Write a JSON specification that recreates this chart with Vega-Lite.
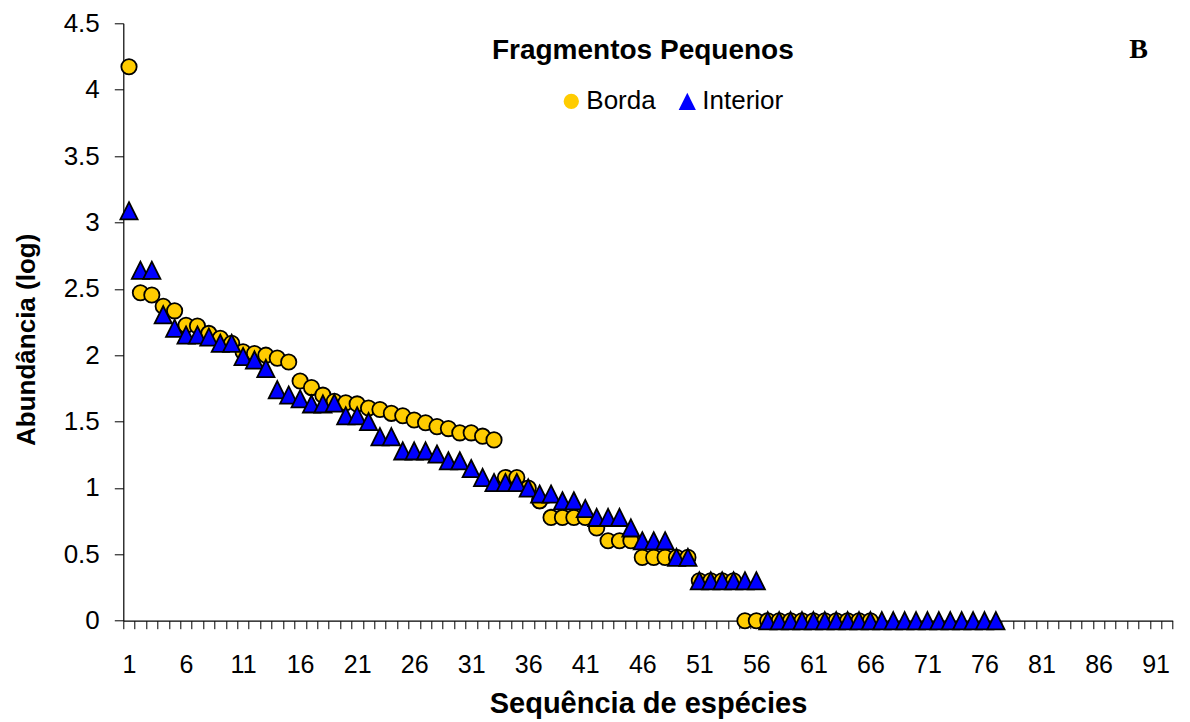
{
  "$schema": "https://vega.github.io/schema/vega-lite/v6.json",
  "width": 1049.4,
  "height": 597.4,
  "autosize": "none",
  "padding": {"left": 123.3, "top": 23.3, "right": 17.3, "bottom": 101.3},
  "background": "white",
  "config": {"view": {"stroke": null}},
  "layer": [
    {
      "data": {"values": [
        {"s":"Borda","r":1,"v":4.173},{"s":"Borda","r":2,"v":2.47},{"s":"Borda","r":3,"v":2.453},{"s":"Borda","r":4,"v":2.369},{"s":"Borda","r":5,"v":2.334},
        {"s":"Borda","r":6,"v":2.225},{"s":"Borda","r":7,"v":2.22},{"s":"Borda","r":8,"v":2.164},{"s":"Borda","r":9,"v":2.127},{"s":"Borda","r":10,"v":2.09},
        {"s":"Borda","r":11,"v":2.025},{"s":"Borda","r":12,"v":2.013},{"s":"Borda","r":13,"v":2.0},{"s":"Borda","r":14,"v":1.978},{"s":"Borda","r":15,"v":1.949},
        {"s":"Borda","r":16,"v":1.806},{"s":"Borda","r":17,"v":1.756},{"s":"Borda","r":18,"v":1.699},{"s":"Borda","r":19,"v":1.653},{"s":"Borda","r":20,"v":1.642},
        {"s":"Borda","r":21,"v":1.633},{"s":"Borda","r":22,"v":1.602},{"s":"Borda","r":23,"v":1.591},{"s":"Borda","r":24,"v":1.562},{"s":"Borda","r":25,"v":1.544},
        {"s":"Borda","r":26,"v":1.512},{"s":"Borda","r":27,"v":1.491},{"s":"Borda","r":28,"v":1.462},{"s":"Borda","r":29,"v":1.447},{"s":"Borda","r":30,"v":1.415},
        {"s":"Borda","r":31,"v":1.415},{"s":"Borda","r":32,"v":1.39},{"s":"Borda","r":33,"v":1.362},{"s":"Borda","r":34,"v":1.079},{"s":"Borda","r":35,"v":1.079},
        {"s":"Borda","r":36,"v":1.0},{"s":"Borda","r":37,"v":0.903},{"s":"Borda","r":38,"v":0.778},{"s":"Borda","r":39,"v":0.778},{"s":"Borda","r":40,"v":0.778},
        {"s":"Borda","r":41,"v":0.778},{"s":"Borda","r":42,"v":0.699},{"s":"Borda","r":43,"v":0.602},{"s":"Borda","r":44,"v":0.602},{"s":"Borda","r":45,"v":0.602},
        {"s":"Borda","r":46,"v":0.477},{"s":"Borda","r":47,"v":0.477},{"s":"Borda","r":48,"v":0.477},{"s":"Borda","r":49,"v":0.477},{"s":"Borda","r":50,"v":0.477},
        {"s":"Borda","r":51,"v":0.301},{"s":"Borda","r":52,"v":0.301},{"s":"Borda","r":53,"v":0.301},{"s":"Borda","r":54,"v":0.301},{"s":"Borda","r":55,"v":0},
        {"s":"Borda","r":56,"v":0},{"s":"Borda","r":57,"v":0},{"s":"Borda","r":58,"v":0},{"s":"Borda","r":59,"v":0},{"s":"Borda","r":60,"v":0},
        {"s":"Borda","r":61,"v":0},{"s":"Borda","r":62,"v":0},{"s":"Borda","r":63,"v":0},{"s":"Borda","r":64,"v":0},{"s":"Borda","r":65,"v":0},
        {"s":"Borda","r":66,"v":0},
        {"s":"Interior","r":1,"v":3.088},{"s":"Interior","r":2,"v":2.64},{"s":"Interior","r":3,"v":2.64},{"s":"Interior","r":4,"v":2.305},{"s":"Interior","r":5,"v":2.203},
        {"s":"Interior","r":6,"v":2.152},{"s":"Interior","r":7,"v":2.152},{"s":"Interior","r":8,"v":2.137},{"s":"Interior","r":9,"v":2.09},{"s":"Interior","r":10,"v":2.09},
        {"s":"Interior","r":11,"v":1.99},{"s":"Interior","r":12,"v":1.964},{"s":"Interior","r":13,"v":1.9},{"s":"Interior","r":14,"v":1.74},{"s":"Interior","r":15,"v":1.7},
        {"s":"Interior","r":16,"v":1.672},{"s":"Interior","r":17,"v":1.633},{"s":"Interior","r":18,"v":1.633},{"s":"Interior","r":19,"v":1.64},{"s":"Interior","r":20,"v":1.544},
        {"s":"Interior","r":21,"v":1.544},{"s":"Interior","r":22,"v":1.5},{"s":"Interior","r":23,"v":1.386},{"s":"Interior","r":24,"v":1.386},{"s":"Interior","r":25,"v":1.279},
        {"s":"Interior","r":26,"v":1.279},{"s":"Interior","r":27,"v":1.279},{"s":"Interior","r":28,"v":1.255},{"s":"Interior","r":29,"v":1.204},{"s":"Interior","r":30,"v":1.204},
        {"s":"Interior","r":31,"v":1.146},{"s":"Interior","r":32,"v":1.079},{"s":"Interior","r":33,"v":1.041},{"s":"Interior","r":34,"v":1.041},{"s":"Interior","r":35,"v":1.041},
        {"s":"Interior","r":36,"v":1.0},{"s":"Interior","r":37,"v":0.954},{"s":"Interior","r":38,"v":0.954},{"s":"Interior","r":39,"v":0.903},{"s":"Interior","r":40,"v":0.903},
        {"s":"Interior","r":41,"v":0.845},{"s":"Interior","r":42,"v":0.778},{"s":"Interior","r":43,"v":0.778},{"s":"Interior","r":44,"v":0.778},{"s":"Interior","r":45,"v":0.699},
        {"s":"Interior","r":46,"v":0.602},{"s":"Interior","r":47,"v":0.602},{"s":"Interior","r":48,"v":0.602},{"s":"Interior","r":49,"v":0.477},{"s":"Interior","r":50,"v":0.477},
        {"s":"Interior","r":51,"v":0.301},{"s":"Interior","r":52,"v":0.301},{"s":"Interior","r":53,"v":0.301},{"s":"Interior","r":54,"v":0.301},{"s":"Interior","r":55,"v":0.301},
        {"s":"Interior","r":56,"v":0.301},{"s":"Interior","r":57,"v":0},{"s":"Interior","r":58,"v":0},{"s":"Interior","r":59,"v":0},{"s":"Interior","r":60,"v":0},
        {"s":"Interior","r":61,"v":0},{"s":"Interior","r":62,"v":0},{"s":"Interior","r":63,"v":0},{"s":"Interior","r":64,"v":0},{"s":"Interior","r":65,"v":0},
        {"s":"Interior","r":66,"v":0},{"s":"Interior","r":67,"v":0},{"s":"Interior","r":68,"v":0},{"s":"Interior","r":69,"v":0},{"s":"Interior","r":70,"v":0},
        {"s":"Interior","r":71,"v":0},{"s":"Interior","r":72,"v":0},{"s":"Interior","r":73,"v":0},{"s":"Interior","r":74,"v":0},{"s":"Interior","r":75,"v":0},
        {"s":"Interior","r":76,"v":0},{"s":"Interior","r":77,"v":0}
      ]},
      "mark": {"type": "point", "filled": true, "stroke": "black", "strokeWidth": 1.8, "opacity": 1, "size": 235, "clip": false},
      "encoding": {
        "x": {"field": "r", "type": "quantitative",
          "scale": {"domain": [0.5, 92.5], "nice": false, "zero": false},
          "axis": {
            "values": [0.5,1.5,2.5,3.5,4.5,5.5,6.5,7.5,8.5,9.5,10.5,11.5,12.5,13.5,14.5,15.5,16.5,17.5,18.5,19.5,20.5,21.5,22.5,23.5,24.5,25.5,26.5,27.5,28.5,29.5,30.5,31.5,32.5,33.5,34.5,35.5,36.5,37.5,38.5,39.5,40.5,41.5,42.5,43.5,44.5,45.5,46.5,47.5,48.5,49.5,50.5,51.5,52.5,53.5,54.5,55.5,56.5,57.5,58.5,59.5,60.5,61.5,62.5,63.5,64.5,65.5,66.5,67.5,68.5,69.5,70.5,71.5,72.5,73.5,74.5,75.5,76.5,77.5,78.5,79.5,80.5,81.5,82.5,83.5,84.5,85.5,86.5,87.5,88.5,89.5,90.5,91.5,92.5],
            "tickCount": 500,
            "labelExpr": "(datum.value - 0.5) % 5 == 0 ? format(datum.value + 0.5, 'd') : ''",
            "labelOffset": 5.7, "labelOverlap": false, "labelFlush": false, "labelBound": false,
            "tickSize": 8, "tickColor": "black", "tickWidth": 1, "domainColor": "black", "domainWidth": 1.2,
            "labelFont": "Liberation Sans", "labelFontSize": 25, "labelColor": "black", "labelPadding": 24,
            "grid": false,
            "title": "Sequência de espécies", "titleFont": "Liberation Sans", "titleFontSize": 29, "titleFontWeight": "bold", "titleColor": "black",
            "titleY": 83, "titleBaseline": "middle"
          }
        },
        "y": {"field": "v", "type": "quantitative",
          "scale": {"domain": [0, 4.5], "nice": false},
          "axis": {
            "values": [0,0.5,1,1.5,2,2.5,3,3.5,4,4.5],
            "tickCount": 50,
            "labelExpr": "'' + datum.value",
            "tickSize": 9, "tickColor": "black", "tickWidth": 1, "domainColor": "black", "domainWidth": 1.2,
            "labelFont": "Liberation Sans", "labelFontSize": 26, "labelColor": "black", "labelPadding": 15,
            "grid": false,
            "title": "Abundância (log)", "titleFont": "Liberation Sans", "titleFontSize": 26, "titleFontWeight": "bold", "titleColor": "black",
            "titleX": -97, "titleY": 316, "titleBaseline": "middle"
          }
        },
        "shape": {"field": "s", "type": "nominal",
          "scale": {"domain": ["Borda", "Interior"], "range": ["circle", "M0,-1.12L1.12,1.12L-1.12,1.12Z"]},
          "legend": {"orient": "none", "legendX": 435, "legendY": 65, "direction": "horizontal", "title": null,
            "labelFont": "Liberation Sans", "labelFontSize": 26, "labelColor": "black", "symbolSize": 235,
            "symbolStrokeColor": "black", "symbolStrokeWidth": 1.8, "labelOffset": 2, "columnPadding": 18, "padding": 0}
        },
        "fill": {"field": "s", "type": "nominal",
          "scale": {"domain": ["Borda", "Interior"], "range": ["#FFCC00", "#0000FF"]}
        }
      }
    },
    {
      "data": {"values": [{"label": "Fragmentos Pequenos"}]},
      "mark": {"type": "text", "font": "Liberation Sans", "fontWeight": "bold", "fontSize": 28, "baseline": "middle", "align": "center", "color": "black"},
      "encoding": {
        "x": {"datum": 46.05, "type": "quantitative"},
        "y": {"datum": 4.295, "type": "quantitative"},
        "text": {"field": "label", "type": "nominal"}
      }
    },
    {
      "data": {"values": [{"label": "B"}]},
      "mark": {"type": "text", "font": "Liberation Serif", "fontWeight": "bold", "fontSize": 28, "baseline": "middle", "align": "center", "color": "black"},
      "encoding": {
        "x": {"datum": 89.5, "type": "quantitative"},
        "y": {"datum": 4.3, "type": "quantitative"},
        "text": {"field": "label", "type": "nominal"}
      }
    }
  ]
}
